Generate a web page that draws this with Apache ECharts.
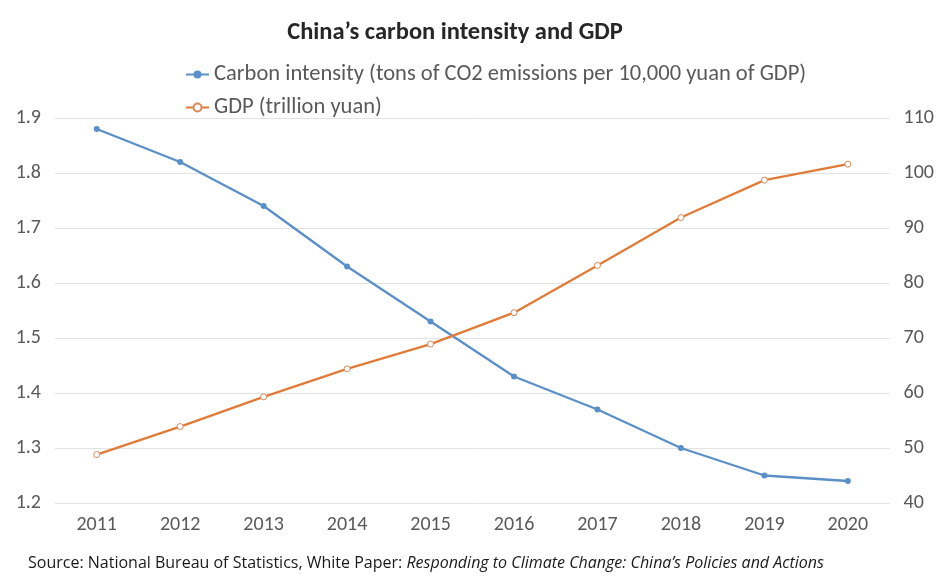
<!DOCTYPE html>
<html>
<head>
<meta charset="utf-8">
<script src="https://cdn.jsdelivr.net/npm/echarts@6/dist/echarts.min.js"></script>
<style>html,body{margin:0;padding:0;background:#fff}#c{width:937px;height:576px}</style>
</head>
<body>
<div id="c"></div>
<script>
const years = ['2011','2012','2013','2014','2015','2016','2017','2018','2019','2020'];
const carbonIntensity = [1.88, 1.82, 1.74, 1.63, 1.53, 1.43, 1.37, 1.30, 1.25, 1.24];
const gdp = [48.8, 53.9, 59.3, 64.4, 68.9, 74.6, 83.2, 91.9, 98.7, 101.6];
const carbonName = 'Carbon intensity (tons of CO2 emissions per 10,000 yuan of GDP)';
const gdpName = 'GDP (trillion yuan)';

const FONT = "Carlito, 'Liberation Sans Narrow', 'Open Sans', sans-serif";
const chart = echarts.init(document.getElementById('c'), null, {renderer: 'canvas'});
chart.setOption({
  backgroundColor: '#fff',
  animation: false,
  title: {
    text: 'China\u2019s carbon intensity and GDP',
    left: 450, top: 15, textAlign: 'center',
    textStyle: {fontFamily: FONT, fontWeight: 'bold', fontSize: 24.5, color: '#262626'}
  },
  legend: {
    orient: 'vertical', left: 180, top: 58, itemGap: 10,
    itemWidth: 23, itemHeight: 10,
    textStyle: {fontFamily: FONT, fontSize: 22.5, color: '#595959'},
    data: [carbonName, gdpName]
  },
  grid: {left: 55, right: 47, top: 118, bottom: 73},
  xAxis: {
    type: 'category', data: years, boundaryGap: true,
    axisLine: {show: false}, axisTick: {show: false},
    axisLabel: {fontFamily: FONT, fontSize: 20, color: '#595959', margin: 12}
  },
  yAxis: [
    {type: 'value', min: 1.2, max: 1.9, interval: 0.1,
     axisLine: {show: false}, axisTick: {show: false},
     axisLabel: {fontFamily: FONT, fontSize: 20, color: '#595959', margin: 14,
       formatter: v => v.toFixed(1)},
     splitLine: {lineStyle: {color: '#e3e3e3', width: 1}}},
    {type: 'value', min: 40, max: 110, interval: 10,
     axisLine: {show: false}, axisTick: {show: false},
     axisLabel: {fontFamily: FONT, fontSize: 20, color: '#595959', margin: 14},
     splitLine: {show: false}}
  ],
  series: [
    {name: carbonName, type: 'line', yAxisIndex: 0, data: carbonIntensity,
     symbol: 'circle', symbolSize: 6,
     lineStyle: {color: '#5b8fc7', width: 2.3},
     itemStyle: {color: '#5b8fc7'}},
    {name: gdpName, type: 'line', yAxisIndex: 1, data: gdp,
     symbol: 'circle', symbolSize: 6,
     lineStyle: {color: '#e07b39', width: 2.3},
     itemStyle: {color: '#ffffff', borderColor: '#d9895a', borderWidth: 1}}
  ],
  graphic: [{
    type: 'text', left: 28, top: 555,
    style: {
      text: '{n|Source: National Bureau of Statistics, White Paper: }{i|Responding to Climate Change: China\u2019s Policies and Actions}',
      rich: {
        n: {fontFamily: "'Open Sans', sans-serif", fontSize: 16, fill: '#1a1a1a'},
        i: {fontFamily: "'Open Sans', sans-serif", fontSize: 16, fontStyle: 'italic', fill: '#1a1a1a'}
      }
    }
  }]
});
</script>
</body>
</html>
